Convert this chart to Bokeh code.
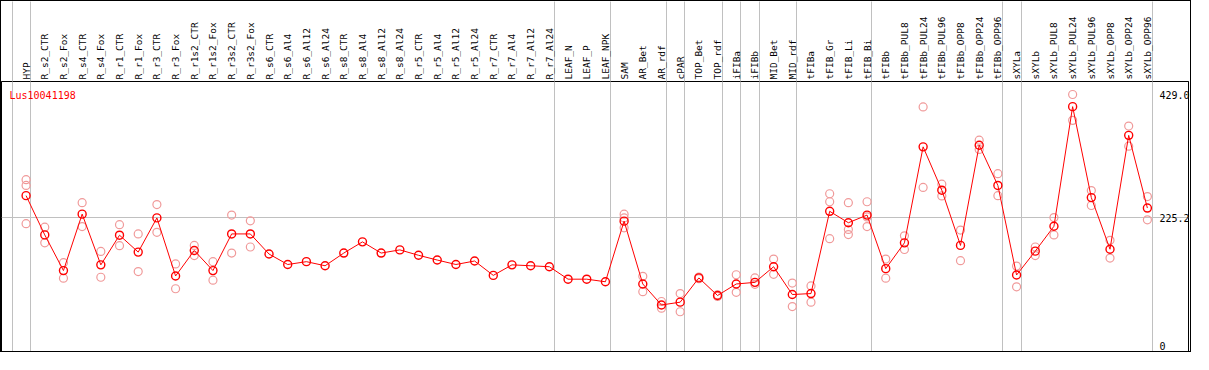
import math
from bokeh.plotting import figure
from bokeh.models import (Range1d, FixedTicker, PrintfTickFormatter, Label)
from bokeh.embed import file_html
from bokeh.resources import INLINE

# ---------------- data ----------------
categories = [
    "HYP", "R_s2_CTR", "R_s2_Fox", "R_s4_CTR", "R_s4_Fox", "R_r1_CTR", "R_r1_Fox",
    "R_r3_CTR", "R_r3_Fox", "R_r1s2_CTR", "R_r1s2_Fox", "R_r3s2_CTR", "R_r3s2_Fox",
    "R_s6_CTR", "R_s6_Al4", "R_s6_Al12", "R_s6_Al24", "R_s8_CTR", "R_s8_Al4",
    "R_s8_Al12", "R_s8_Al24", "R_r5_CTR", "R_r5_Al4", "R_r5_Al12", "R_r5_Al24",
    "R_r7_CTR", "R_r7_Al4", "R_r7_Al12", "R_r7_Al24", "LEAF_N", "LEAF_P", "LEAF_NPK",
    "SAM", "AR_Bet", "AR_rdf", "cPAR", "TOP_Bet", "TOP_rdf", "iFIBa", "iFIBb",
    "MID_Bet", "MID_rdf", "tFIBa", "tFIB_Gr", "tFIB_Li", "tFIB_Bi", "tFIBb",
    "tFIBb_PUL8", "tFIBb_PUL24", "tFIBb_PUL96", "tFIBb_OPP8", "tFIBb_OPP24",
    "tFIBb_OPP96", "sXYLa", "sXYLb", "sXYLb_PUL8", "sXYLb_PUL24", "sXYLb_PUL96",
    "sXYLb_OPP8", "sXYLb_OPP24", "sXYLb_OPP96",
]

mean_values = [
    262.3, 197.1, 137.8, 231.6, 147.3, 196.6, 168.5, 225.3, 128.8, 171.2, 137.8,
    198.7, 198.7, 165.3, 147.9, 152.6, 145.8, 166.9, 185.5, 166.9, 172.2, 163.2,
    155.3, 147.9, 153.7, 129.8, 147.3, 145.8, 144.2, 123.5, 123.5, 119.2, 219.9,
    115.5, 80.6, 85.3, 125.6, 96.4, 115.5, 118.2, 144.2, 98.0, 99.6, 236.3, 217.3,
    230.0, 141.0, 183.9, 343.4, 271.4, 179.6, 346.1, 279.3, 130.4, 170.1, 211.4,
    410.2, 259.1, 173.3, 362.5, 241.7,
]

replicates = [
    [288.8, 279.3, 215.7], [209.9, 183.9], [151.0, 125.1], [250.7, 210.9],
    [169.6, 126.7], [214.1, 179.2], [198.7, 136.2], [247.5, 201.4], [148.9, 107.6],
    [179.6, 162.7], [152.6, 121.9], [230.0, 166.9], [220.5, 177.0],
    [], [], [], [], [], [], [], [], [], [], [], [], [], [], [], [], [], [], [],
    [231.6, 225.3, 208.8], [128.3, 102.8], [86.4, 75.3], [99.6, 69.4],
    [127.0, 124.2], [97.5, 94.8], [130.9, 101.7], [125.6, 115.0], [156.9, 131.5],
    [117.1, 77.9], [112.3, 85.3], [265.5, 252.2, 190.8], [250.7, 206.2, 197.6],
    [252.2, 227.0, 210.9], [156.9, 125.1], [195.5, 172.8], [409.7, 276.0],
    [281.4, 261.8], [205.1, 154.2], [354.5, 339.1], [298.9, 262.3], [145.2, 110.8],
    [177.0, 162.7], [225.8, 197.1], [430.4, 387.4], [270.8, 245.9], [188.1, 158.5],
    [377.9, 344.5], [260.7, 222.1],
]

# last index of each sample group (separators drawn just after them)
group_ends = [-1, 0, 28, 31, 34, 35, 37, 38, 39, 41, 45, 52, 53, 60]

y_ticks = [225.2, 429.0]
y_zero_label = "0"
series_name = "Lus10041198"

# ---------------- build ----------------
idx = list(range(len(categories)))
rep_x = [i for i, reps in zip(idx, replicates) for _ in reps]
rep_y = [v for reps in replicates for v in reps]
boundaries = [g + 0.25 for g in group_ends]

x_start, x_end = -1.315, 62.2
y_start, y_end = 0, 452

HEADER = 80

p = figure(width=1191, height=352, output_backend="svg", toolbar_location=None,
           x_range=Range1d(x_start, x_end), y_range=Range1d(y_start, y_end),
           x_axis_location="above", y_axis_location="right",
           min_border_left=0, min_border_right=0, min_border_bottom=0,
           min_border_top=HEADER, background_fill_color="white",
           border_fill_color="white")
p.styles = {"border": "1px solid black"}
p.outline_line_color = "black"
p.outline_line_width = 1

xticker = FixedTicker(ticks=idx, minor_ticks=boundaries)
xa = p.xaxis[0]
xa.ticker = xticker
xa.major_label_overrides = {i: c for i, c in zip(idx, categories)}
xa.major_label_orientation = math.pi / 2
xa.major_label_text_font = "DejaVu Sans Mono"
xa.major_label_text_font_size = "9.5px"
xa.major_label_text_color = "black"
xa.major_label_standoff = 2 - HEADER
xa.major_tick_out = 0
xa.major_tick_in = 0
xa.minor_tick_out = HEADER
xa.minor_tick_in = 0
xa.minor_tick_line_color = "#C0C0C0"
xa.axis_line_color = "black"

p.xgrid.ticker = xticker
p.xgrid.grid_line_color = None
p.xgrid.minor_grid_line_color = "#C0C0C0"

ya = p.yaxis[0]
ya.ticker = FixedTicker(ticks=y_ticks)
ya.formatter = PrintfTickFormatter(format="%.1f")
ya.major_label_text_font = "DejaVu Sans Mono"
ya.major_label_text_font_size = "10px"
ya.major_label_text_color = "black"
ya.major_label_text_baseline = "top"
ya.major_label_standoff = -29
ya.major_tick_out = 0
ya.major_tick_in = 0
ya.axis_line_color = None
ya.minor_tick_line_color = None

p.ygrid.ticker = FixedTicker(ticks=[y_ticks[0]])
p.ygrid.grid_line_color = "#C0C0C0"

# replicates
p.scatter(rep_x, rep_y, marker="circle", size=8, fill_color=None,
          line_color="#F09A9A", line_width=1.2)
# mean line + markers
p.line(idx, mean_values, line_color="#FF0000", line_width=1)
p.scatter(idx, mean_values, marker="circle", size=8, fill_color=None,
          line_color="#FF0000", line_width=1.4)

p.add_layout(Label(x=x_start, y=y_end, x_offset=8, y_offset=-8, text=series_name,
                   text_baseline="top", text_align="left",
                   text_font="DejaVu Sans Mono", text_font_size="10px",
                   text_color="#FF0000"))
p.add_layout(Label(x=x_end, y=y_start, x_offset=-29, y_offset=4, text=y_zero_label,
                   text_baseline="bottom", text_align="left",
                   text_font="DejaVu Sans Mono", text_font_size="10px",
                   text_color="black"))

open("out.html", "w").write(file_html(p, INLINE))
